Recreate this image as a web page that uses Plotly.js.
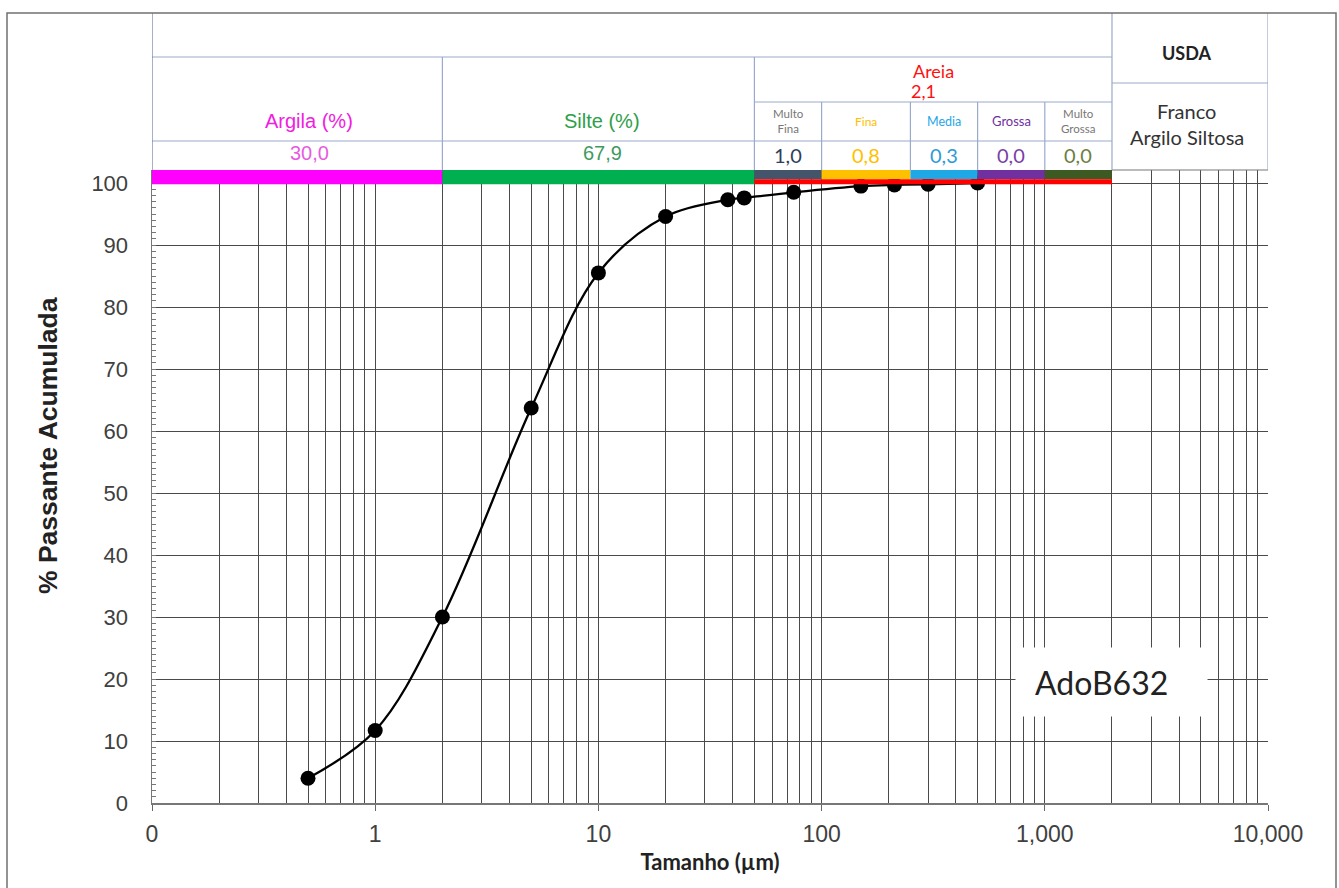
<!DOCTYPE html>
<html>
<head>
<meta charset="utf-8">
<script src="https://cdn.plot.ly/plotly-3.0.1.min.js"></script>
<style>html,body{margin:0;padding:0;background:#fff;}#chart{width:1339px;height:888px;}</style>
</head>
<body>
<div id="chart"></div>
<script>
// ---- data ----
const sizes = [0.5, 1, 2, 5, 10, 20, 38, 45, 75, 150, 212, 300, 500];
const passing = [4.0, 11.7, 30.0, 63.7, 85.5, 94.6, 97.3, 97.6, 98.5, 99.5, 99.7, 99.8, 100.0];

const mainClasses = ['Argila (%)', 'Silte (%)'];
const mainLimits = [0.1, 2, 50];
const mainValues = ['30,0', '67,9'];

const sandTitle = 'Areia';
const sandTotal = '2,1';
const sandClasses = ['Multo<br>Fina', 'Fina', 'Media', 'Grossa', 'Multo<br>Grossa'];
const sandLimits = [50, 100, 250, 500, 1000, 2000];
const sandValues = ['1,0', '0,8', '0,3', '0,0', '0,0'];

const usdaTitle = 'USDA';
const usdaClassLines = ['Franco', 'Argilo Siltosa'];
const usdaLimits = [2000, 10000];

const sampleName = 'AdoB632';

const xTickVals = [0.1, 1, 10, 100, 1000, 10000];
const xTickText = ['0', '1', '10', '100', '1,000', '10,000'];
const yTickVals = [0, 10, 20, 30, 40, 50, 60, 70, 80, 90, 100];

// ---- styles ----
const mainColors = ['#FF00FF', '#00B050'];
const mainTitleColors = ['#F020E0', '#2E9E48'];
const mainValueColors = ['#E65CE0', '#3E9A60'];
const sandColors = ['#44546A', '#FFC000', '#1FA8E6', '#7030A0', '#3D5A22'];
const sandTitleColors = ['#777777', '#FFC000', '#1FA8E6', '#7030A0', '#777777'];
const sandTitleSizes = [11.5, 12, 12.5, 13, 11.5];
const sandValueColors = ['#2F3E5C', '#FFC000', '#2E9BD6', '#7A3FA6', '#6E7E3E'];
const lineCol = '#9AAACB';
const gridCol = '#4a4a4a';

// paper y helpers (plot area top px 170, bottom px 803)
const T = 170, B = 803, H = B - T;
const py = px => (B - px) / H;
const px2x = px => (px - 152) / (1268 - 152);
const lg = v => Math.log10(v);
const gmid = (a, b) => Math.sqrt(a * b);

const shapes = [];
const annotations = [];

// colour bars
const yBarLow = 99.8, yBarTop = 102.1, yRedTop = 100.6;
for (let i = 0; i < mainClasses.length; i++) {
  shapes.push({type: 'rect', xref: 'x', yref: 'y', x0: mainLimits[i], x1: mainLimits[i + 1],
    y0: yBarLow, y1: yBarTop, fillcolor: mainColors[i], line: {width: 0}});
}
for (let i = 0; i < sandClasses.length; i++) {
  shapes.push({type: 'rect', xref: 'x', yref: 'y', x0: sandLimits[i], x1: sandLimits[i + 1],
    y0: yRedTop, y1: yBarTop, fillcolor: sandColors[i], line: {width: 0}});
}
shapes.push({type: 'rect', xref: 'x', yref: 'y', x0: sandLimits[0], x1: sandLimits[sandLimits.length - 1],
  y0: yBarLow, y1: yRedTop, fillcolor: '#FF0000', line: {width: 0}});

// header grid lines
const yTop = py(13), yRow1 = py(57), yRow2 = py(102), yRow3 = py(141), yUsda = py(83);
const sandEnd = sandLimits[sandLimits.length - 1];
function hline(x0, x1, y, col) {
  shapes.push({type: 'line', xref: 'x', yref: 'paper', x0: x0, x1: x1, y0: y, y1: y, line: {color: col || lineCol, width: 1.2}});
}
function vline(x, y0, y1, col) {
  shapes.push({type: 'line', xref: 'x', yref: 'paper', x0: x, x1: x, y0: y0, y1: y1, line: {color: col || lineCol, width: 1.2}});
}
hline(mainLimits[0], sandEnd, yRow1);
hline(sandLimits[0], sandEnd, yRow2);
hline(mainLimits[0], sandEnd, yRow3);
hline(usdaLimits[0], usdaLimits[1], yUsda);
hline(usdaLimits[0], usdaLimits[1], 1, '#777');
vline(mainLimits[0], 1, yTop, '#6C7BA0');
vline(mainLimits[1], 1, yRow1);
vline(mainLimits[2], 1, yRow1);
for (let i = 1; i < sandLimits.length - 1; i++) vline(sandLimits[i], 1, yRow2);
vline(usdaLimits[0], 1, yTop);
vline(usdaLimits[1], 1, yTop);

// outer frame
shapes.push({type: 'rect', xref: 'paper', yref: 'paper', x0: px2x(7), x1: px2x(1336), y0: py(895), y1: yTop,
  line: {color: '#707070', width: 1.5}, fillcolor: 'rgba(0,0,0,0)'});

// header texts
const fCal = 'Lato, "Open Sans", sans-serif';
const fAri = '"Liberation Sans", Arial, sans-serif';
function txt(xref, x, ypx, text, font, extra) {
  const a = Object.assign({xref: xref, yref: 'paper', x: x, y: py(ypx), text: text, showarrow: false,
    xanchor: 'center', yanchor: 'middle', font: font}, extra || {});
  annotations.push(a);
}
for (let i = 0; i < mainClasses.length; i++) {
  const xm = lg(gmid(mainLimits[i], mainLimits[i + 1]));
  const sh = i === 0 ? 12 : 4;
  txt('x', xm, 121, mainClasses[i], {family: fAri, size: 20, color: mainTitleColors[i]}, {xshift: sh});
  txt('x', xm, 153, mainValues[i], {family: fAri, size: 20, color: mainValueColors[i]}, {xshift: sh});
}
const sandMid = lg(gmid(sandLimits[0], sandEnd));
txt('x', sandMid, 71, sandTitle, {family: fCal, size: 18, color: '#FF1010'});
txt('x', sandMid, 91, sandTotal, {family: fCal, size: 18, color: '#FF1010'}, {xshift: -10});
for (let i = 0; i < sandClasses.length; i++) {
  const xm = lg(gmid(sandLimits[i], sandLimits[i + 1]));
  txt('x', xm, 121, sandClasses[i], {family: fCal, size: sandTitleSizes[i], color: sandTitleColors[i]});
  txt('x', xm, 155, sandValues[i], {family: fCal, size: 20, color: sandValueColors[i]});
}
const usdaMid = lg(gmid(usdaLimits[0], usdaLimits[1]));
txt('x', usdaMid, 53, '<b>' + usdaTitle + '</b>', {family: fCal, size: 18, color: '#222'}, {xshift: -3});
txt('x', usdaMid, 111, usdaClassLines[0], {family: fCal, size: 20, color: '#333'}, {xshift: -3});
txt('x', usdaMid, 137, usdaClassLines[1], {family: fCal, size: 20, color: '#333'}, {xshift: -3});

// sample label
annotations.push({xref: 'paper', yref: 'paper', x: px2x(1015), xanchor: 'left', y: py(682), yanchor: 'middle',
  text: sampleName, showarrow: false, align: 'left', width: 153, height: 30, borderpad: 19,
  bgcolor: '#ffffff', font: {family: fCal, size: 32, color: '#222'}});

// y title
txt('paper', px2x(48), 446, '<b>% Passante Acumulada</b>', {family: fAri, size: 26.5, color: '#222'}, {textangle: -90});

const trace = {
  x: sizes, y: passing, type: 'scatter', mode: 'lines+markers',
  line: {color: '#000', width: 2.3, shape: 'spline', smoothing: 1},
  marker: {color: '#000', size: 15},
  hoverinfo: 'x+y'
};

const layout = {
  width: 1339, height: 888,
  margin: {l: 152, r: 71, t: 170, b: 85},
  paper_bgcolor: '#fff', plot_bgcolor: '#fff',
  showlegend: false,
  xaxis: {
    type: 'log', range: [-1, 4],
    tickvals: xTickVals, ticktext: xTickText,
    showgrid: true, gridcolor: gridCol, gridwidth: 1,
    minor: {dtick: 'D1', showgrid: true, gridcolor: gridCol, gridwidth: 1, ticks: ''},
    ticks: 'outside', ticklen: 6, tickcolor: '#666',
    ticklabelstandoff: 4,
    showline: true, linecolor: '#777', linewidth: 1.5,
    zeroline: false,
    tickfont: {family: fAri, size: 23, color: '#404040'},
    title: {text: '<b>Tamanho (µm)</b>', standoff: 8, font: {family: fCal, size: 22, color: '#222'}}
  },
  yaxis: {
    range: [0, 102.1],
    tickvals: yTickVals,
    showgrid: true, gridcolor: gridCol, gridwidth: 1,
    minor: {dtick: 1, ticks: 'inside', ticklen: 4, tickcolor: '#777', showgrid: false},
    ticks: 'inside', ticklen: 4, tickcolor: '#777',
    ticklabelstandoff: 18,
    showline: true, linecolor: '#777', linewidth: 1.5,
    zeroline: false,
    tickfont: {family: fAri, size: 22, color: '#404040'}
  },
  shapes: shapes,
  annotations: annotations
};

Plotly.newPlot('chart', [trace], layout, {displayModeBar: false, staticPlot: true});
</script>
</body>
</html>
